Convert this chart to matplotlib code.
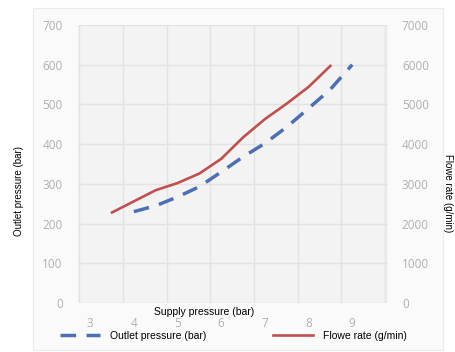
import matplotlib
matplotlib.use("Agg")
import matplotlib.pyplot as plt
from matplotlib.patches import Rectangle

# Data
supply_flow = [3.5, 4.0, 4.5, 5.0, 5.5, 6.0, 6.5, 7.0, 7.5, 8.0, 8.5]
flow_rate = [2280, 2560, 2840, 3020, 3260, 3630, 4170, 4630, 5020, 5440, 5970]
supply_outlet = [4.0, 4.5, 5.0, 5.5, 6.0, 6.5, 7.0, 7.5, 8.0, 8.5, 9.0]
outlet_pressure = [230, 245, 267, 293, 330, 368, 402, 443, 490, 538, 600]
x_ticks = [3, 4, 5, 6, 7, 8, 9]
y_left_ticks = [0, 100, 200, 300, 400, 500, 600, 700]
y_right_ticks = [0, 1000, 2000, 3000, 4000, 5000, 6000, 7000]

W, H = 455, 352
fig = plt.figure(figsize=(W / 100, H / 100), dpi=100)
fig.patch.set_facecolor("white")

# outer panel
fig.add_artist(Rectangle((33 / W, 1 - 350 / H), (443 - 33) / W, (350 - 8) / H,
                         transform=fig.transFigure, facecolor="#fafafa",
                         edgecolor="#ececec", linewidth=0.8, zorder=-10))

ax = fig.add_axes([78 / W, 1 - 303 / H, (388 - 78) / W, (303 - 25) / H])
ax.set_facecolor("#f3f3f3")
for s in ax.spines.values():
    s.set_visible(False)

ax.set_xlim(2.72, 9.82)
ax.set_ylim(0, 700)
ax.set_xticks(x_ticks)
ax.set_xticks([2.75 + k for k in range(8)], minor=True)
ax.set_yticks(y_left_ticks)
ax.grid(False)
ax.grid(True, which="minor", axis="x", color="#e3e3e3", linewidth=1.0)
ax.grid(True, which="major", axis="y", color="#e3e3e3", linewidth=1.0)
ax.set_axisbelow(True)

ax.tick_params(axis="both", which="both", length=0)
ax.tick_params(axis="x", pad=10)
ax.tick_params(axis="y", pad=11)
for lab in ax.get_xticklabels() + ax.get_yticklabels():
    lab.set_fontfamily("Open Sans")
    lab.set_fontsize(8.5)
    lab.set_color("#b0b0b0")

ax2 = ax.twinx()
ax2.set_ylim(0, 7000)
ax2.set_yticks(y_right_ticks)
for s in ax2.spines.values():
    s.set_visible(False)
ax2.tick_params(axis="y", length=0, pad=10)
for lab in ax2.get_yticklabels():
    lab.set_fontfamily("Open Sans")
    lab.set_fontsize(8.5)
    lab.set_color("#b0b0b0")

l1, = ax.plot(supply_outlet, outlet_pressure, color="#4d6fb5", linewidth=2.5,
              dashes=(4.5, 3.0), dash_capstyle="butt", label="Outlet pressure (bar)")
l2, = ax2.plot(supply_flow, flow_rate, color="#c0504d", linewidth=1.9,
               label="Flowe rate (g/min)")

lab_font = dict(family="Liberation Sans", size=7.5, color="black")
fig.text(204 / W, 1 - 312 / H, "Supply pressure (bar)", ha="center", va="center", **lab_font)
fig.text(19 / W, 1 - 191 / H, "Outlet pressure (bar)", ha="center", va="center",
         rotation=90, family="Liberation Sans", size=7.0, color="black")
fig.text(448 / W, 1 - 193 / H, "Flowe rate (g/min)", ha="center", va="center",
         rotation=-90, family="Liberation Sans", size=7.0, color="black")

leg = fig.legend(handles=[l1, l2], loc="center left",
                 bbox_to_anchor=(60 / W, 1 - 336 / H), ncol=2, frameon=False,
                 prop={"family": "Liberation Sans", "size": 7.5},
                 handlelength=3.8, handletextpad=1.0, columnspacing=6.4,
                 borderaxespad=0, borderpad=0)

fig.savefig("out.png", dpi=100, facecolor="white")
